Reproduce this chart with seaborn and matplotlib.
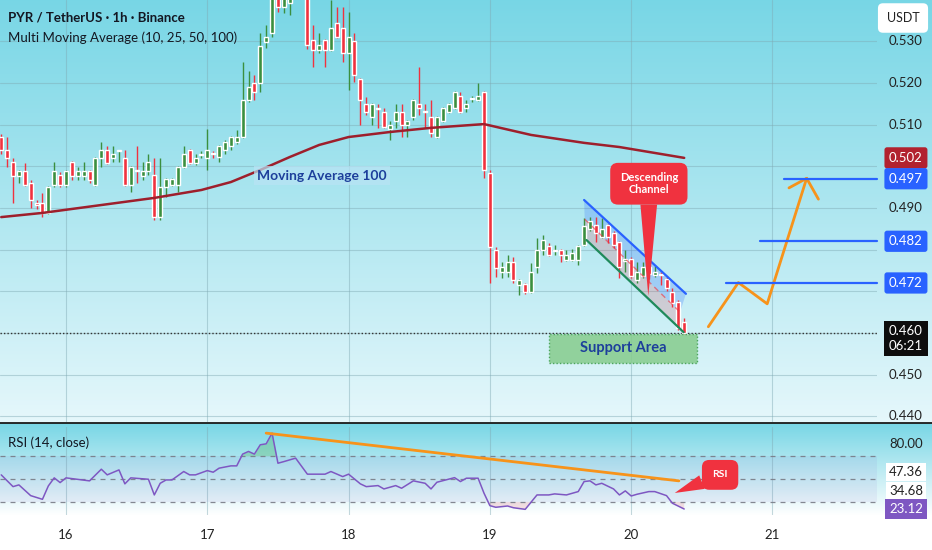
import numpy as np
import matplotlib
matplotlib.use("Agg")
import matplotlib.pyplot as plt
from matplotlib.patches import Rectangle
from matplotlib.lines import Line2D
import seaborn as sns

# hourly candles, hour 0 = day 15 13:00
opens = [0.5070, 0.5039, 0.5010, 0.4976, 0.4988, 0.4960, 0.4912, 0.4912, 0.4888, 0.4955,
         0.4979, 0.4955, 0.5010, 0.4976, 0.4976, 0.4988, 0.4955, 0.5020, 0.5039, 0.5020,
         0.5036, 0.5020, 0.4955, 0.4990, 0.4976, 0.4988, 0.4979, 0.4878, 0.4950, 0.4955,
         0.4955, 0.4998, 0.5039, 0.5008, 0.5027, 0.5020, 0.5031, 0.5022, 0.5039, 0.5048,
         0.5058, 0.5070, 0.5159, 0.5200, 0.5200, 0.5298, 0.5320, 0.5430, 0.5383, 0.5392,
         0.5430, 0.5460, 0.5440, 0.5303, 0.5279, 0.5303, 0.5279, 0.5344, 0.5332, 0.5272,
         0.5300, 0.5209, 0.5149, 0.5118, 0.5140, 0.5130, 0.5089, 0.5108, 0.5130, 0.5099,
         0.5118, 0.5149, 0.5132, 0.5118, 0.5070, 0.5108, 0.5130, 0.5140, 0.5168, 0.5140,
         0.5161, 0.5159, 0.5178, 0.4984, 0.4799, 0.4746, 0.4746, 0.4770, 0.4715, 0.4718,
         0.4698, 0.4758, 0.4799, 0.4809, 0.4797, 0.4799, 0.4775, 0.4775, 0.4775, 0.4811,
         0.4849, 0.4859, 0.4830, 0.4859, 0.4840, 0.4818, 0.4773, 0.4777, 0.4727, 0.4737,
         0.4758, 0.4739, 0.4741, 0.4729, 0.4698, 0.4674, 0.4626]
highs = [0.5078, 0.5070, 0.5020, 0.4990, 0.5008, 0.4967, 0.4919, 0.4936, 0.4952, 0.5010,
         0.4986, 0.4990, 0.5012, 0.4998, 0.5010, 0.4990, 0.5022, 0.5058, 0.5048, 0.5048,
         0.5039, 0.5039, 0.5000, 0.5048, 0.5010, 0.5029, 0.5020, 0.5020, 0.4971, 0.4972,
         0.5000, 0.5048, 0.5041, 0.5029, 0.5036, 0.5089, 0.5036, 0.5050, 0.5063, 0.5072,
         0.5087, 0.5250, 0.5228, 0.5219, 0.5320, 0.5339, 0.5450, 0.5450, 0.5460, 0.5470,
         0.5490, 0.5480, 0.5460, 0.5339, 0.5320, 0.5305, 0.5399, 0.5382, 0.5382, 0.5370,
         0.5320, 0.5212, 0.5166, 0.5152, 0.5149, 0.5140, 0.5108, 0.5149, 0.5149, 0.5111,
         0.5161, 0.5238, 0.5149, 0.5159, 0.5120, 0.5142, 0.5152, 0.5181, 0.5178, 0.5159,
         0.5168, 0.5200, 0.5180, 0.4991, 0.4806, 0.4770, 0.4787, 0.4782, 0.4730, 0.4720,
         0.4768, 0.4828, 0.4835, 0.4816, 0.4811, 0.4801, 0.4799, 0.4801, 0.4811, 0.4876,
         0.4878, 0.4878, 0.4876, 0.4862, 0.4845, 0.4821, 0.4799, 0.4782, 0.4770, 0.4770,
         0.4765, 0.4760, 0.4746, 0.4737, 0.4708, 0.4679, 0.4636]
lows = [0.5030, 0.4998, 0.4912, 0.4960, 0.4953, 0.4900, 0.4897, 0.4878, 0.4885, 0.4950,
        0.4950, 0.4950, 0.4967, 0.4967, 0.4967, 0.4960, 0.4953, 0.4998, 0.5006, 0.5010,
        0.5010, 0.4953, 0.4938, 0.4960, 0.4967, 0.4979, 0.4871, 0.4871, 0.4926, 0.4953,
        0.4938, 0.4996, 0.5006, 0.5004, 0.5020, 0.4991, 0.5020, 0.5010, 0.5029, 0.5039,
        0.5053, 0.5068, 0.5155, 0.5159, 0.5178, 0.5284, 0.5310, 0.5370, 0.5368, 0.5363,
        0.5410, 0.5410, 0.5280, 0.5238, 0.5272, 0.5238, 0.5277, 0.5308, 0.5250, 0.5183,
        0.5202, 0.5099, 0.5123, 0.5099, 0.5092, 0.5092, 0.5063, 0.5092, 0.5070, 0.5070,
        0.5111, 0.5123, 0.5092, 0.5070, 0.5068, 0.5106, 0.5128, 0.5137, 0.5128, 0.5130,
        0.5154, 0.5157, 0.4972, 0.4720, 0.4734, 0.4732, 0.4734, 0.4720, 0.4691, 0.4694,
        0.4696, 0.4744, 0.4787, 0.4785, 0.4787, 0.4770, 0.4773, 0.4772, 0.4763, 0.4809,
        0.4845, 0.4818, 0.4828, 0.4816, 0.4804, 0.4732, 0.4746, 0.4732, 0.4720, 0.4732,
        0.4730, 0.4734, 0.4715, 0.4700, 0.4662, 0.4607, 0.4598]
closes = [0.5039, 0.5020, 0.4976, 0.4988, 0.4955, 0.4919, 0.4907, 0.4888, 0.4950, 0.4988,
          0.4955, 0.4988, 0.4976, 0.4988, 0.4988, 0.4967, 0.5020, 0.5039, 0.5008, 0.5029,
          0.5037, 0.4955, 0.4998, 0.4988, 0.4988, 0.5010, 0.4878, 0.4950, 0.4969, 0.4969,
          0.4998, 0.5029, 0.5008, 0.5020, 0.5029, 0.5039, 0.5029, 0.5048, 0.5058, 0.5070,
          0.5070, 0.5159, 0.5190, 0.5178, 0.5288, 0.5310, 0.5420, 0.5383, 0.5420, 0.5430,
          0.5460, 0.5440, 0.5291, 0.5279, 0.5291, 0.5279, 0.5332, 0.5310, 0.5272, 0.5310,
          0.5219, 0.5159, 0.5130, 0.5149, 0.5137, 0.5094, 0.5099, 0.5130, 0.5099, 0.5108,
          0.5159, 0.5140, 0.5130, 0.5080, 0.5118, 0.5140, 0.5149, 0.5178, 0.5130, 0.5149,
          0.5164, 0.5168, 0.4991, 0.4806, 0.4756, 0.4758, 0.4770, 0.4727, 0.4727, 0.4698,
          0.4746, 0.4799, 0.4823, 0.4787, 0.4799, 0.4787, 0.4787, 0.4792, 0.4809, 0.4857,
          0.4869, 0.4840, 0.4849, 0.4830, 0.4811, 0.4758, 0.4777, 0.4737, 0.4746, 0.4758,
          0.4741, 0.4746, 0.4739, 0.4708, 0.4672, 0.4612, 0.4600]

# Moving average 100
ma_hours = [0, 7, 26, 34, 39, 44, 49, 54, 59, 66, 73, 82, 90, 99, 105, 116]
ma_values = [0.4878, 0.4888, 0.4924, 0.4943, 0.4962, 0.4991, 0.5022, 0.5051, 0.5070,
             0.5082, 0.5092, 0.5101, 0.5075, 0.5056, 0.5046, 0.5020]

# RSI(14)
rsi_hours = [0, 2, 3, 5, 7, 8, 9, 10, 11, 15, 17, 18, 20, 21, 22, 25, 26, 27, 28, 29,
             31, 32, 33, 35, 36, 37, 39, 40, 41, 42, 43, 44, 45, 46, 47, 48, 50, 52, 55, 56,
             58, 59, 61, 62, 64, 65, 67, 68, 70, 72, 73, 74, 77, 78, 79, 81, 82, 83, 84, 86,
             87, 89, 91, 93, 94, 96, 98, 99, 100, 101, 102, 104, 105, 106, 107, 108, 110, 111,
             113, 114, 116]
rsi_values = [53.5, 43.3, 44.8, 35.5, 32.3, 43.9, 50.9, 46.8, 50.9, 48.3,
              58.4, 53.5, 57.8, 45.7, 50.9, 49.7, 36.1, 46.2, 49.1, 49.1,
              56.4, 53.5, 53.5, 57.2, 55.8, 59.3, 61.3, 61.3, 71.5, 73.8,
              71.5, 79.6, 80.4, 89.7, 63.6, 65.0, 68.0, 54.1, 54.1, 56.4,
              52.0, 54.1, 45.7, 43.3, 44.2, 41.3, 44.2, 41.9, 48.3, 46.2,
              41.3, 47.1, 51.1, 47.7, 50.6, 50.6, 37.6, 26.8, 25.4, 26.5,
              25.0, 23.6, 36.1, 36.1, 37.0, 36.1, 39.0, 47.7, 48.3, 44.8,
              46.2, 41.3, 36.1, 39.6, 35.2, 36.7, 39.0, 39.0, 35.5, 28.9, 23.9]

day_hours = [11, 35, 59, 83, 107, 131]
day_labels = ["16", "17", "18", "19", "20", "21"]
price_ticks = [0.44, 0.45, 0.46, 0.47, 0.48, 0.49, 0.50, 0.51, 0.52, 0.53]
# scale labels left visible (the others sit under the marker boxes)
shown_ticks = [0.44, 0.45, 0.49, 0.51, 0.52, 0.53]

# drawings on the chart
channel_upper = ([99.0, 116.3], [0.4919, 0.4694])
channel_mid = ([99.1, 115.3], [0.4873, 0.4650])
channel_lower = ([99.4, 115.9], [0.4823, 0.4602])
path_hours = [120.1, 125.2, 130.1, 136.8]
path_prices = [0.4615, 0.4721, 0.4670, 0.4971]
head_hours = [133.8, 136.8, 138.8]
head_prices = [0.4948, 0.4971, 0.4921]
target_prices = [0.497, 0.482, 0.472]
target_starts = [133.0, 128.9, 123.1]
rsi_trend = ([45, 115.1], [89.7, 48.3])

GREEN = "#3b8f3f"
RED = "#f0323f"
BLUE = "#2962ff"

sns.set_theme(style="white")
plt.rcParams["font.family"] = ["Lato", "DejaVu Sans"]

W, H = 932, 550
fig = plt.figure(figsize=(W / 100, H / 100), dpi=100)

# background gradient
top = np.array([0.47, 0.84, 0.90])
grad = np.ones((H, 1, 3))
for r in range(H):
    if r <= 422:
        t = r / 422
        grad[r, 0] = top * (1 - t) + np.array([0.90, 0.97, 0.985]) * t
    elif r <= 515:
        t = (r - 423) / 92
        grad[r, 0] = top * (1 - t) + np.array([1.0, 1.0, 1.0]) * t
bg = fig.add_axes([0, 0, 1, 1], zorder=-10)
bg.imshow(grad, aspect="auto", extent=[0, 1, 0, 1])
bg.axis("off")

plot_w = 877 / W
ax = fig.add_axes([0, 128 / H, plot_w, 422 / H])
rax = fig.add_axes([0, 35 / H, plot_w, 88 / H])
for a in (ax, rax):
    a.set_facecolor("none")
    for s in a.spines.values():
        s.set_visible(False)

xmin, xmax = -0.21, 148.75
ax.set_xlim(xmin, xmax)
ax.set_ylim(0.43866, 0.53986)
rax.set_xlim(xmin, xmax)
rax.set_ylim(18.7, 95.0)

grid_kw = dict(color="#7fa9b3", lw=0.8, alpha=0.45, zorder=0)
for p in price_ticks:
    ax.axhline(p, **grid_kw)
for d in day_hours:
    ax.axvline(d, **grid_kw)
    rax.axvline(d, **grid_kw)

# candles
o = np.array(opens)
c = np.array(closes)
hrs = np.arange(len(c))
cols = [GREEN if cc >= oo else RED for oo, cc in zip(o, c)]
ax.vlines(hrs, lows, highs, colors=cols, lw=1, zorder=3)
body = np.maximum(np.abs(c - o), 0.00025)
ax.bar(hrs, body, bottom=np.minimum(o, c), width=0.68, color=cols, zorder=4)

# MA 100
sns.lineplot(x=ma_hours, y=ma_values, ax=ax, color="#9e1f2c", lw=1.8, zorder=5)
ax.text(54.5, 0.4977, "Moving Average 100", color="#1d3f9b", fontsize=10,
        fontweight="bold", ha="center", va="center", zorder=6,
        bbox=dict(boxstyle="square,pad=0.25", fc="#b9e3f5", ec="none", alpha=0.7))

# current price line
ax.axhline(closes[-1], color="#333333", lw=1, ls=(0, (1, 1.5)), zorder=2)

# descending channel
ax.fill(channel_upper[0] + channel_mid[0][::-1], channel_upper[1] + channel_mid[1][::-1],
        color=BLUE, alpha=0.22, lw=0, zorder=2)
ax.fill(channel_mid[0] + channel_lower[0][::-1], channel_mid[1] + channel_lower[1][::-1],
        color=RED, alpha=0.18, lw=0, zorder=2)
ax.plot(*channel_upper, color=BLUE, lw=1.6, zorder=6)
ax.plot(*channel_lower, color="#1f8a5b", lw=1.6, zorder=6)
ax.plot(*channel_mid, color=RED, lw=1, ls=(0, (4, 3)), alpha=0.6, zorder=6)

ax.annotate("Descending\nChannel", xy=(109.9, 0.4689), xytext=(110.0, 0.4958),
            ha="center", va="center", color="white", fontsize=8, fontweight="bold",
            zorder=8, linespacing=1.1,
            bbox=dict(boxstyle="round,pad=0.85,rounding_size=0.7", fc="#f0323f", ec="none"),
            arrowprops=dict(arrowstyle="wedge,tail_width=1.5", fc="#f0323f", ec="none",
                            shrinkA=0, shrinkB=0))

# support area
ax.add_patch(Rectangle((93.0, 0.4528), 25.2, 0.0070, fc="#86cc8c", ec="#3a9a4a",
                       ls=(0, (1, 1.5)), lw=1, alpha=0.85, zorder=5))
ax.text(105.6, 0.4563, "Support Area", color="#1d3f9b", fontsize=10.5,
        fontweight="bold", ha="center", va="center", zorder=6)

# projected path and targets
ax.plot(path_hours, path_prices, color="#f7931a", lw=2, zorder=6, solid_capstyle="round")
ax.plot(head_hours, head_prices, color="#f7931a", lw=2, zorder=6, solid_capstyle="round")
for tp, ts in zip(target_prices, target_starts):
    ax.plot([ts, xmax], [tp, tp], color=BLUE, lw=1.6, zorder=6, clip_on=False)

ax.set_xticks([])
ax.set_yticks([])

# right price scale
ytr = ax.get_yaxis_transform()
for p in shown_ticks:
    ax.text(1.033, p, f"{p:.3f}", transform=ytr, ha="center", va="center",
            fontsize=9.5, color="#222222", clip_on=False)
box_labels = [(0.502, "0.502", "#b2222f"), (0.497, "0.497", BLUE),
              (0.482, "0.482", BLUE), (0.472, "0.472", BLUE)]
for yv, txt, col in box_labels:
    ax.text(1.033, yv, txt, transform=ytr, ha="center", va="center", fontsize=9.5,
            color="white", clip_on=False, zorder=10,
            bbox=dict(boxstyle="round,pad=0.35,rounding_size=0.2", fc=col, ec="none"))
ax.text(1.033, 0.4587, "0.460\n06:21", transform=ytr, ha="center", va="center",
        fontsize=9.5, color="white", clip_on=False, zorder=10, linespacing=1.25,
        bbox=dict(boxstyle="square,pad=0.35", fc="#0d0d0d", ec="none"))
fig.text(903 / W, 1 - 18 / H, "USDT", ha="center", va="center", fontsize=9,
         color="#222222",
         bbox=dict(boxstyle="round,pad=0.7,rounding_size=0.4", fc="white", ec="none"))

# titles
fig.text(8 / W, 1 - 18 / H, "PYR / TetherUS \u00b7 1h \u00b7 Binance", fontsize=9.5,
         fontweight="bold", color="#131722", va="center")
fig.text(8 / W, 1 - 38 / H, "Multi Moving Average (10, 25, 50, 100)", fontsize=9.5,
         color="#131722", va="center")

# RSI pane
rv = np.array(rsi_values)
rax.fill_between([xmin, xmax], 30, 70, color="#7e57c2", alpha=0.08, lw=0)
for lvl in (70, 50, 30):
    rax.axhline(lvl, color="#787b86", lw=0.9, ls=(0, (4, 4)), alpha=0.9)
rax.fill_between(rsi_hours, rv, 70, where=rv > 70, interpolate=True,
                 color="#4caf50", alpha=0.3, lw=0)
rax.fill_between(rsi_hours, rv, 30, where=rv < 30, interpolate=True,
                 color="#f23645", alpha=0.15, lw=0)
sns.lineplot(x=rsi_hours, y=rsi_values, ax=rax, color="#7e57c2", lw=1.1, zorder=4)
rax.plot(*rsi_trend, color="#f7931a", lw=2, zorder=5)
rax.annotate("RSI", xy=(114.4, 37.8), xytext=(122.1, 53.5), ha="center", va="center",
             color="white", fontsize=7.5, fontweight="bold", zorder=8,
             bbox=dict(boxstyle="round,pad=1.0,rounding_size=0.7", fc="#f0323f", ec="none"),
             arrowprops=dict(arrowstyle="wedge,tail_width=1.4", fc="#f0323f", ec="none",
                             shrinkA=0, shrinkB=0))
rax.text(8 / 877, 0.82, "RSI (14, close)", transform=rax.transAxes, fontsize=9.5,
         color="#131722", va="center")

rtr = rax.get_yaxis_transform()
rax.text(1.033, 80, "80.00", transform=rtr, ha="center", va="center", fontsize=9.5,
         color="#222222", clip_on=False)
rax.text(1.033, 56.1, "47.36", transform=rtr, ha="center", va="center", fontsize=9.5,
         color="#222222", clip_on=False,
         bbox=dict(boxstyle="square,pad=0.25", fc="white", ec="none"))
rax.text(1.033, 39.6, "34.68", transform=rtr, ha="center", va="center", fontsize=9.5,
         color="#222222", clip_on=False,
         bbox=dict(boxstyle="square,pad=0.25", fc="white", ec="none"))
rax.text(1.033, 23.9, "23.12", transform=rtr, ha="center", va="center", fontsize=9.5,
         color="white", clip_on=False,
         bbox=dict(boxstyle="square,pad=0.3", fc="#7e57c2", ec="none"))

rax.set_yticks([])
rax.set_xticks(day_hours)
rax.set_xticklabels(day_labels, fontsize=9.5, color="#222222")
rax.tick_params(axis="x", length=0, pad=10)

# pane separator
fig.add_artist(Line2D([0, 1], [1 - 423 / H] * 2, transform=fig.transFigure,
                      color="#1a1a1a", lw=1.3))

fig.savefig("out.png", dpi=100)
